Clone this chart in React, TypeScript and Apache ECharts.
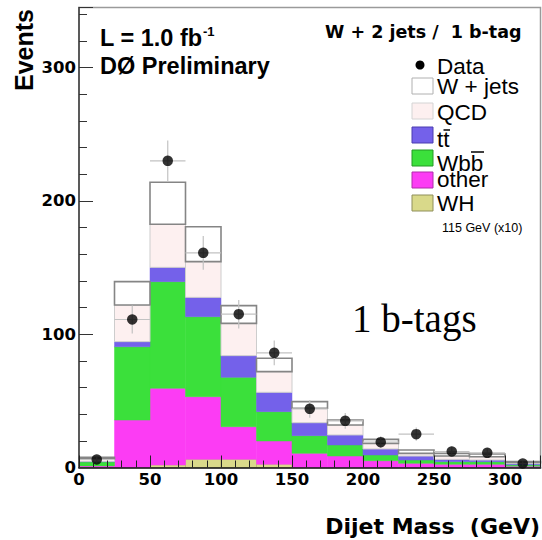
import React, { useEffect, useRef } from "react";
import * as echarts from "echarts";

// Dijet mass histogram bin edges (GeV)
const binEdges = [0, 25, 50, 75, 100, 125, 150, 175, 200, 225, 250, 275, 300, 325];

// Stacked Monte Carlo expectations per bin (events)
const whSignal = [0, 0, 1.9, 6.1, 6.1, 2.4, 0, 0, 0, 0, 0, 0, 0];
const otherBkg = [1.2, 35.6, 57.5, 47.0, 24.5, 17.5, 10.6, 8.6, 5.1, 3.1, 2.4, 2.4, 1.0];
const wbbBkg = [3.0, 55.0, 80.0, 60.0, 37.0, 22.0, 13.3, 8.3, 4.3, 2.5, 2.0, 2.0, 1.0];
const ttbarBkg = [0.4, 3.8, 10.7, 14.5, 16.3, 14.5, 9.7, 7.5, 4.5, 3.0, 1.7, 1.2, 1.0];
const qcdBkg = [1.8, 27.5, 32.3, 26.8, 24.2, 15.5, 10.8, 7.5, 4.2, 2.0, 2.5, 2.5, 0.6];
const wjetsBkg = [1.2, 17.5, 31.5, 26.2, 13.3, 10.0, 5.0, 3.7, 3.0, 2.5, 2.0, 2.0, 0.8];

// Observed data and statistical uncertainties
const dataCounts = [6, 111, 230, 161, 115, 86, 44, 35, 19, 25, 12, 11, 3];
const dataErrors = [2.4, 10.5, 15.2, 12.7, 10.7, 9.3, 6.6, 5.9, 4.4, 5.0, 3.5, 3.3, 1.7];

const SANS = "'Liberation Sans', Arial, Helvetica, sans-serif";
const DEJAVU = "'DejaVu Sans', Verdana, sans-serif";
const SERIF = "'Liberation Serif', 'Times New Roman', serif";

const layers = [
  { name: "WH", values: whSignal, fill: "#d9d98a", stroke: "#b9b96c", lineWidth: 0.8 },
  { name: "other", values: otherBkg, fill: "#fc3cf4", stroke: "#fc3cf4", lineWidth: 0.5 },
  { name: "Wbb", values: wbbBkg, fill: "#3be03b", stroke: "#3be03b", lineWidth: 0.5 },
  { name: "tt", values: ttbarBkg, fill: "#7461ea", stroke: "#7461ea", lineWidth: 0.5 },
  { name: "QCD", values: qcdBkg, fill: "#fdf0f0", stroke: "#cdcdcd", lineWidth: 1 },
  { name: "W + jets", values: wjetsBkg, fill: "#ffffff", stroke: "#858585", lineWidth: 1.6 },
];

function buildOption(): echarts.EChartsOption {
  const base = dataCounts.map(() => 0);
  const stackSeries: any[] = layers.map((layer) => {
    const items = layer.values.map((v, i) => {
      const lo = base[i];
      const hi = lo + v;
      base[i] = hi;
      return [binEdges[i], binEdges[i + 1], lo, hi];
    });
    return {
      type: "custom",
      name: layer.name,
      data: items,
      encode: { x: [0, 1], y: [2, 3] },
      z: 2,
      renderItem: (_p: any, api: any) => {
        if (api.value(3) - api.value(2) <= 0) return null;
        const a = api.coord([api.value(0), api.value(3)]);
        const b = api.coord([api.value(1), api.value(2)]);
        return {
          type: "rect",
          shape: { x: a[0], y: a[1], width: b[0] - a[0], height: b[1] - a[1] },
          style: { fill: layer.fill, stroke: layer.stroke, lineWidth: layer.lineWidth },
        };
      },
    };
  });

  const errorSeries = {
    type: "custom",
    name: "errors",
    z: 3,
    data: dataCounts.map((d, i) => [
      (binEdges[i] + binEdges[i + 1]) / 2,
      d,
      dataErrors[i],
      binEdges[i],
      binEdges[i + 1],
    ]),
    encode: { x: 0, y: 1 },
    renderItem: (_p: any, api: any) => {
      const x = api.value(0);
      const y = api.value(1);
      const e = api.value(2);
      const c = api.coord([x, y]);
      const t = api.coord([x, y + e]);
      const btm = api.coord([x, Math.max(0, y - e)]);
      const l = api.coord([api.value(3), y]);
      const r = api.coord([api.value(4), y]);
      const st = { stroke: "#c2c2c2", lineWidth: 1.2 };
      return {
        type: "group",
        children: [
          { type: "line", shape: { x1: l[0], y1: c[1], x2: r[0], y2: c[1] }, style: st },
          { type: "line", shape: { x1: c[0], y1: t[1], x2: c[0], y2: btm[1] }, style: st },
        ],
      };
    },
  };

  const dataSeries = {
    type: "scatter",
    name: "Data",
    z: 4,
    symbol: "circle",
    symbolSize: 10.5,
    itemStyle: { color: "#000000" },
    data: dataCounts.map((d, i) => [(binEdges[i] + binEdges[i + 1]) / 2, d]),
  };

  const legendRows = [
    { label: "W + jets", fill: "#ffffff", stroke: "#b0b0b0", boxTop: 78, mid: 86.5 },
    { label: "QCD", fill: "#fdf0f0", stroke: "#d4d4d4", boxTop: 103, mid: 112 },
    { label: "tt", fill: "#7461ea", stroke: "#4a3cb0", boxTop: 127, mid: 139 },
    { label: "Wbb", fill: "#3be03b", stroke: "#249a24", boxTop: 150, mid: 163.5 },
    { label: "other", fill: "#fc3cf4", stroke: "#b02aaa", boxTop: 172, mid: 179.5 },
    { label: "WH", fill: "#d9d98a", stroke: "#8f8f5a", boxTop: 195, mid: 203 },
  ];

  const legendText = (text: string, x: number, y: number) => ({
    type: "text",
    x,
    y,
    style: { text, font: `22.5px ${SANS}`, lineHeight: 15, fill: "#000", verticalAlign: "middle" },
  });

  const graphics: any[] = [
    {
      type: "text",
      x: 100,
      y: 38,
      style: { text: "L = 1.0 fb", font: `bold 23.5px ${SANS}`, fill: "#000", verticalAlign: "middle" },
    },
    {
      type: "text",
      x: 203,
      y: 31,
      style: { text: "-1", font: `bold 13px ${SANS}`, fill: "#000", verticalAlign: "middle" },
    },
    {
      type: "text",
      x: 100,
      y: 66,
      style: { text: "DØ Preliminary", font: `bold 23.5px ${SANS}`, fill: "#000", verticalAlign: "middle" },
    },
    {
      type: "text",
      x: 325,
      y: 31.5,
      style: { text: "W + 2 jets /  1 b-tag", font: `bold 17.5px ${DEJAVU}`, fill: "#000", verticalAlign: "middle" },
    },
    { type: "circle", shape: { cx: 420, cy: 65, r: 4.5 }, style: { fill: "#000" } },
    legendText("Data", 437, 66.5),
    {
      type: "text",
      x: 442,
      y: 227.5,
      style: { text: "115 GeV (x10)", font: `12.5px ${SANS}`, fill: "#000", verticalAlign: "middle" },
    },
    // bars over the anti-quarks in the legend labels
    { type: "line", shape: { x1: 443.5, y1: 130, x2: 450, y2: 130 }, style: { stroke: "#000", lineWidth: 1.5 } },
    { type: "line", shape: { x1: 471, y1: 152, x2: 484, y2: 152 }, style: { stroke: "#000", lineWidth: 1.5 } },
    {
      type: "text",
      x: 352,
      y: 318,
      style: { text: "1 b-tags", font: `39px ${SERIF}`, fill: "#000", verticalAlign: "middle" },
    },
    {
      type: "text",
      x: 24,
      y: 50,
      rotation: Math.PI / 2,
      style: {
        text: "Events",
        font: `bold 25px ${SANS}`,
        fill: "#000",
        align: "center",
        verticalAlign: "middle",
      },
    },
    {
      type: "text",
      x: 540,
      y: 526,
      style: {
        text: "Dijet Mass  (GeV)",
        font: `bold 22px ${DEJAVU}`,
        fill: "#000",
        align: "right",
        verticalAlign: "middle",
      },
    },
  ];
  legendRows.forEach((r) => {
    graphics.push({
      type: "rect",
      shape: { x: 412, y: r.boxTop, width: 21, height: 16 },
      style: { fill: r.fill, stroke: r.stroke, lineWidth: 1 },
    });
    graphics.push(legendText(r.label, 437, r.mid));
  });

  return {
    animation: false,
    grid: {
      left: 79,
      right: 1.5,
      top: 7.5,
      bottom: 72.5,
      show: true,
      borderColor: "#9a9a9a",
      borderWidth: 1.5,
      backgroundColor: "transparent",
    },
    xAxis: {
      type: "value",
      min: 0,
      max: 325,
      interval: 50,
      z: 10,
      axisLine: { show: true, onZero: false, lineStyle: { color: "#111", width: 1.6 } },
      axisTick: { show: true, inside: true, length: 12, lineStyle: { color: "#222", width: 1 } },
      minorTick: { show: true, splitNumber: 5, length: 7, lineStyle: { color: "#222", width: 1 } },
      axisLabel: {
        fontFamily: DEJAVU,
        fontWeight: "bold",
        fontSize: 16.5,
        color: "#000",
        margin: 3,
        showMaxLabel: false,
      },
      splitLine: { show: false },
    },
    yAxis: {
      type: "value",
      min: 0,
      max: 345,
      interval: 100,
      z: 10,
      axisLine: { show: true, onZero: false, lineStyle: { color: "#444", width: 1.6 } },
      axisTick: { show: true, inside: true, length: 14, lineStyle: { color: "#333", width: 1 } },
      minorTick: { show: true, splitNumber: 5, length: 8, lineStyle: { color: "#333", width: 1 } },
      axisLabel: {
        fontFamily: DEJAVU,
        fontWeight: "bold",
        fontSize: 16.5,
        color: "#000",
        margin: 3,
        showMaxLabel: false,
      },
      splitLine: { show: false },
    },
    series: [...stackSeries, errorSeries, dataSeries],
    graphic: graphics,
  };
}

export default function App() {
  const ref = useRef<HTMLDivElement>(null);
  useEffect(() => {
    if (!ref.current) return;
    const chart = echarts.init(ref.current, undefined, { renderer: "svg" });
    chart.setOption(buildOption());
    return () => chart.dispose();
  }, []);
  return (
    <div
      ref={ref}
      style={{ position: "fixed", left: 0, top: 0, width: 542, height: 540, background: "#fff" }}
    />
  );
}
